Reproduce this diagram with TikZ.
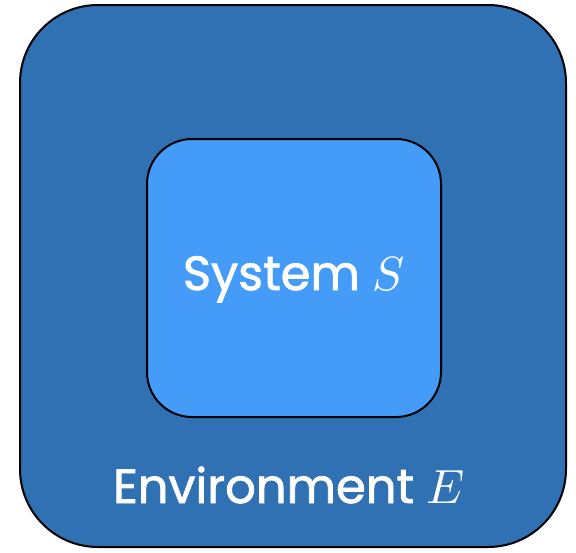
\documentclass[tikz,border=0pt]{standalone}
\usepackage{fontspec}
\usepackage{unicode-math}
\setmainfont{Poppins}[FakeBold=1.6]
\setmathfont{Latin Modern Math}
\definecolor{outerblue}{HTML}{3071B4}
\definecolor{innerblue}{HTML}{459CF8}
\begin{document}
\begin{tikzpicture}[x=1pt,y=-1pt,
  boxstyle/.style={draw=black,line width=2pt},
  labelstyle/.style={text=white,inner sep=0pt,font=\fontsize{48}{52}\selectfont}]
\useasboundingbox (0,0) rectangle (576,552);
\draw[boxstyle,fill=outerblue,rounded corners=78pt] (20,5) rectangle (566,547);
\draw[boxstyle,fill=innerblue,rounded corners=45pt] (147,139) rectangle (441,417);
\node[labelstyle,anchor=base] (sys) at (294,290) {System $S$};
\node[labelstyle,anchor=base] (env) at (289,503) {Environment $E$};
\end{tikzpicture}
\end{document}
